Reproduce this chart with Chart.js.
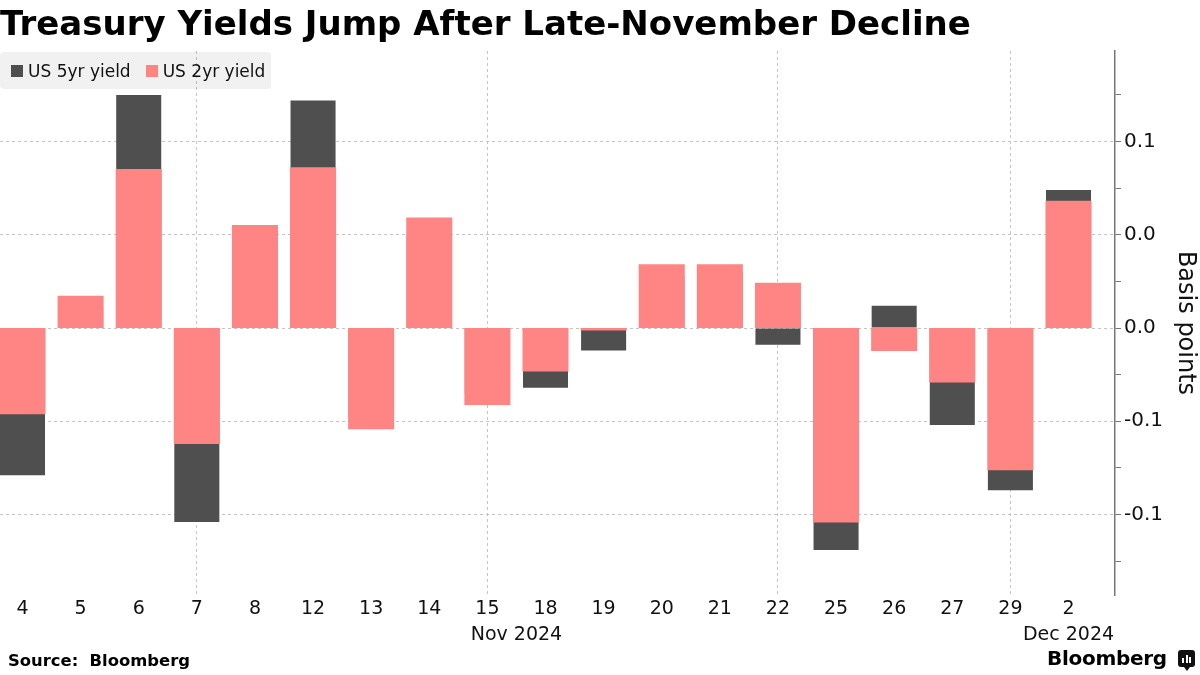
<!DOCTYPE html>
<html>
<head>
<meta charset="utf-8">
<script src="https://cdn.jsdelivr.net/npm/chart.js@4"></script>
<style>
  html, body { margin:0; padding:0; background:#fff; }
  body { width:1200px; height:675px; position:relative; overflow:hidden; font-family:"DejaVu Sans", sans-serif; }
  #title { position:absolute; left:0; top:3px; font-family:"DejaVu Sans"; font-weight:bold; font-size:34px; color:#000; white-space:nowrap; }
  #chartWrap { position:absolute; left:0; top:0; width:1200px; height:675px; }
  #legend { position:absolute; left:0; top:52px; height:37px; width:271px; background:rgba(0,0,0,0.055); border-radius:4px; display:flex; align-items:center; padding-left:11px; box-sizing:border-box; }
  .li { display:flex; align-items:center; margin-right:15px; font-size:17px; color:#111; white-space:nowrap; }
  .sw { width:12px; height:12px; margin-right:5px; }
  #source { position:absolute; left:8px; top:651px; font-weight:bold; font-size:16.4px; color:#000; white-space:pre; }
  #brand { position:absolute; left:1047px; top:646px; font-weight:bold; font-size:20px; color:#000; letter-spacing:-0.3px; white-space:nowrap; }
  #icon { position:absolute; left:1178px; top:650px; width:17px; height:17px; background:#111; border-radius:3px; }
  #icon i { position:absolute; bottom:4px; width:2px; background:#fff; }
  #icon b { position:absolute; left:6px; bottom:-4px; width:0; height:0; border-left:3px solid transparent; border-right:3px solid transparent; border-top:4px solid #111; }
</style>
</head>
<body>
<div id="chartWrap"><canvas id="c" width="1200" height="675"></canvas></div>
<div id="title">Treasury Yields Jump After Late-November Decline</div>
<div id="legend"></div>
<div id="source">Source:  Bloomberg</div>
<div id="brand">Bloomberg</div>
<div id="icon"><i style="left:4px;height:5px"></i><i style="left:7.5px;height:8px"></i><i style="left:11px;height:6px"></i><b></b></div>
<script>
// ---- data ----
const categories = ['4','5','6','7','8','12','13','14','15','18','19','20','21','22','25','26','27','29','2'];
const us5yr = [-0.079, 0.012, 0.125, -0.104, 0.045, 0.122, -0.048, 0.050, -0.035, -0.032, -0.012, 0.028, 0.030, -0.009, -0.119, 0.012, -0.052, -0.087, 0.074];
const us2yr = [-0.046, 0.017, 0.085, -0.062, 0.055, 0.086, -0.054, 0.059, -0.041, -0.023, -0.001, 0.034, 0.034, 0.024, -0.104, -0.012, -0.029, -0.076, 0.068];
const majorTickValues = [0.1, 0.05, 0, -0.05, -0.1];
const majorTickLabels = ['0.1', '0.0', '0.0', '-0.1', '-0.1'];
const minorTickValues = [0.125, 0.075, 0.025, -0.025, -0.075, -0.125];
const weekGridCategories = ['7', '15', '22', '29'];
const monthLabels = ['Nov 2024', 'Dec 2024'];
const monthLabelCategories = [['15', '18'], ['2']];
const seriesNames = ['US 5yr yield', 'US 2yr yield'];
const seriesColors = ['#4f4f4f', '#ff8484'];

const toPoints = arr => arr.map((v, i) => ({ x: i, y: v }));
const weekIdx = weekGridCategories.map(c => categories.indexOf(c));

const monthPlugin = {
  id: 'monthLabels',
  afterDraw(chart) {
    const xs = chart.scales.x, ctx = chart.ctx;
    ctx.save();
    ctx.font = '19px "DejaVu Sans"';
    ctx.fillStyle = '#111';
    ctx.textAlign = 'center';
    ctx.textBaseline = 'middle';
    monthLabels.forEach((t, k) => {
      const idxs = monthLabelCategories[k].map(c => categories.indexOf(c));
      const px = idxs.reduce((s, i) => s + xs.getPixelForValue(i), 0) / idxs.length;
      ctx.fillText(t, px, 635);
    });
    ctx.restore();
  }
};

const chart = new Chart(document.getElementById('c'), {
  type: 'bar',
  data: {
    datasets: [
      { label: seriesNames[0], data: toPoints(us5yr), backgroundColor: seriesColors[0], order: 2, inflateAmount: 0 },
      { label: seriesNames[1], data: toPoints(us2yr), backgroundColor: seriesColors[1], order: 1, inflateAmount: 0.5 }
    ]
  },
  options: {
    responsive: false,
    animation: false,
    devicePixelRatio: 1,
    layout: { padding: { top: 51, left: 0, right: 0, bottom: 0 } },
    datasets: { bar: { grouped: false, categoryPercentage: 1, barPercentage: 0.775, borderWidth: 0 } },
    plugins: { legend: { display: false }, tooltip: { enabled: false } },
    scales: {
      x: {
        type: 'linear',
        offset: false,
        min: -0.387,
        max: 18.8,
        afterBuildTicks(s) { s.ticks = categories.map((c, i) => ({ value: i })); },
        afterFit(s) { s.height = 80; },
        ticks: {
          callback: (v) => categories[v],
          font: { family: 'DejaVu Sans', size: 19 },
          color: '#111',
          padding: 3,
          maxRotation: 0,
          autoSkip: false
        },
        grid: {
          offset: false,
          drawTicks: false,
          color: (ctx) => (ctx.tick && weekIdx.includes(ctx.tick.value)) ? '#c4c4c4' : 'rgba(0,0,0,0)',
          lineWidth: 1
        },
        border: { display: false, dash: [3, 3] }
      },
      y: {
        position: 'right',
        min: -0.1432,
        max: 0.1486,
        afterBuildTicks(s) {
          s.ticks = majorTickValues.concat(minorTickValues).sort((a, b) => a - b).map(v => ({ value: v }));
        },
        afterFit(s) { s.width = 85; },
        ticks: {
          callback: (v) => {
            const k = majorTickValues.findIndex(m => Math.abs(m - v) < 1e-9);
            return k >= 0 ? majorTickLabels[k] : '';
          },
          font: { family: 'DejaVu Sans', size: 20 },
          color: '#111',
          padding: 3
        },
        grid: {
          color: (ctx) => (ctx.tick && majorTickValues.some(m => Math.abs(m - ctx.tick.value) < 1e-9)) ? '#c4c4c4' : 'rgba(0,0,0,0)',
          tickColor: '#777',
          tickLength: 6,
          lineWidth: 1
        },
        border: { display: true, color: '#777', width: 1.5, dash: [3, 3] },
        title: {
          display: true,
          text: 'Basis points',
          font: { family: 'DejaVu Sans', size: 24 },
          color: '#111',
          padding: { top: 0, bottom: 0 }
        }
      }
    }
  },
  plugins: [monthPlugin]
});

// HTML legend built from datasets (legend order: 5yr, 2yr)
const lg = document.getElementById('legend');
chart.data.datasets.forEach(ds => {
  const it = document.createElement('div');
  it.className = 'li';
  const sw = document.createElement('span');
  sw.className = 'sw';
  sw.style.background = ds.backgroundColor;
  it.appendChild(sw);
  it.appendChild(document.createTextNode(ds.label));
  lg.appendChild(it);
});
</script>
</body>
</html>
